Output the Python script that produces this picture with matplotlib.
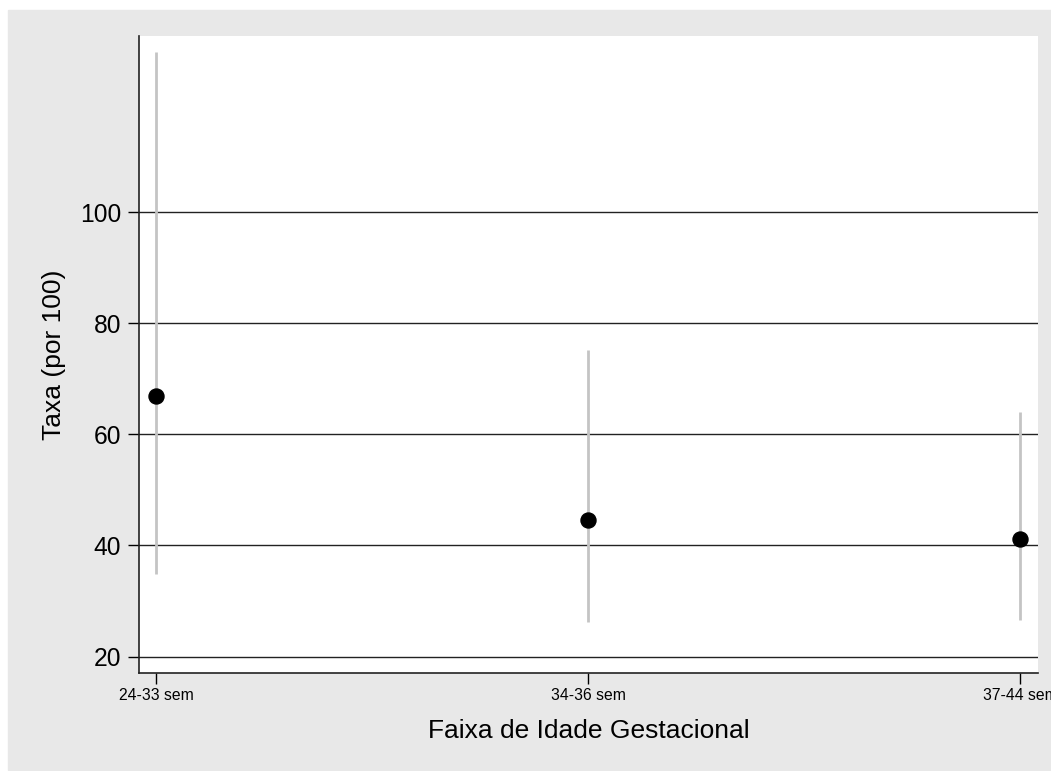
import matplotlib.pyplot as plt
from matplotlib.patches import Rectangle

plt.rcParams['font.family'] = ['Liberation Sans', 'DejaVu Sans']

faixas = ['24-33 sem', '34-36 sem', '37-44 sem']
taxa = [66.9, 44.5, 41.1]
ic_inf = [34.8, 26.3, 26.5]
ic_sup = [128.8, 75.1, 64.0]
yticks = [20, 40, 60, 80, 100]

fig = plt.figure(figsize=(10.51, 7.71), dpi=100)
# fundo cinza em volta do grafico
fig.add_artist(Rectangle((8 / 1051, 1 / 771), 1 - 8 / 1051, 760 / 771,
                         transform=fig.transFigure, color='#e8e8e8', zorder=-5))

ax = fig.add_axes([139 / 1051, (771 - 672.7) / 771, 899 / 1051, 636.7 / 771])
ax.set_facecolor('white')

pos = [1, 2, 3]
ax.vlines(pos, ic_inf, ic_sup, color='#c4c4c4', lw=2, zorder=2)
ax.plot(pos, taxa, 'o', color='black', ms=10.8, zorder=3)

ax.set_xlim(0.9606, 3.0417)
ax.set_ylim(17.1, 131.7)
ax.set_yticks(yticks)
ax.set_xticks(pos)
ax.set_xticklabels(faixas, fontsize=11.3)
ax.tick_params(axis='y', labelsize=17.7, length=7.7, width=1, pad=5)
ax.tick_params(axis='x', length=7.7, width=1, pad=3)
ax.grid(axis='y', color='#222222', lw=1)
ax.set_axisbelow(True)

for s in ['top', 'right']:
    ax.spines[s].set_visible(False)
for s in ['left', 'bottom']:
    ax.spines[s].set_color('#222222')
    ax.spines[s].set_linewidth(1.2)

ax.set_ylabel('Taxa (por 100)', fontsize=19, labelpad=10)
ax.set_xlabel('Faixa de Idade Gestacional', fontsize=19, labelpad=12)

fig.savefig('out.png', dpi=100)
